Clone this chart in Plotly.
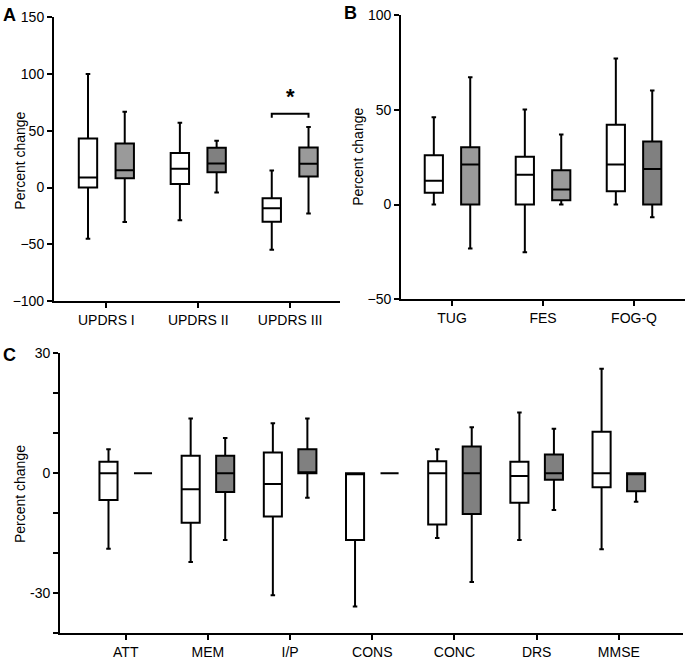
import plotly.graph_objects as go

# ---------------- Data ----------------
# Panel A
A_CATS = ["UPDRS I", "UPDRS II", "UPDRS III"]
A_WHITE_LOW = [-45, -28.8, -54.7]
A_WHITE_Q1 = [0, 3.2, -30]
A_WHITE_MED = [8.8, 16.5, -18.2]
A_WHITE_Q3 = [43.2, 30.3, -9.4]
A_WHITE_HIGH = [100, 57, 15]
A_GRAY_LOW = [-30.3, -4.4, -22.9]
A_GRAY_Q1 = [8.2, 13.5, 9.7]
A_GRAY_MED = [15.3, 21.2, 20.9]
A_GRAY_Q3 = [38.8, 35, 35.3]
A_GRAY_HIGH = [66.8, 41.2, 53.2]
A_SIG_CAT = 2          # significant comparison (UPDRS III)
A_SIG_LEVEL = 65       # bracket height

# Panel B
B_CATS = ["TUG", "FES", "FOG-Q"]
B_WHITE_LOW = [0, -25.2, 0]
B_WHITE_Q1 = [6.2, 0, 7.0]
B_WHITE_MED = [12.5, 15.7, 21.1]
B_WHITE_Q3 = [26, 25.2, 42.1]
B_WHITE_HIGH = [46.1, 50.2, 77.1]
B_GRAY_LOW = [-23.2, 0, -6.7]
B_GRAY_Q1 = [0, 2.3, 0]
B_GRAY_MED = [21.1, 7.9, 18.7]
B_GRAY_Q3 = [30.3, 18.1, 33.3]
B_GRAY_HIGH = [67.2, 37, 60.2]

# Panel C
C_CATS = ["ATT", "MEM", "I/P", "CONS", "CONC", "DRS", "MMSE"]
C_WHITE_LOW = [-18.9, -22.2, -30.5, -33.3, -16.2, -16.7, -19]
C_WHITE_Q1 = [-6.7, -12.4, -10.8, -16.7, -12.8, -7.4, -3.5]
C_WHITE_MED = [0, -4, -2.7, 0, 0, -0.7, 0]
C_WHITE_Q3 = [2.9, 4.4, 5.2, 0, 3, 2.9, 10.4]
C_WHITE_HIGH = [6, 13.7, 12.5, 0, 6, 15.2, 26.1]
C_GRAY_LOW = [0, -16.7, -6.1, 0, -27.2, -9.2, -7.1]
C_GRAY_Q1 = [0, -4.7, 0, 0, -10.2, -1.6, -4.5]
C_GRAY_MED = [0, 0, 0, 0, 0, 0, 0]
C_GRAY_Q3 = [0, 4.4, 6, 0, 6.7, 4.7, 0]
C_GRAY_HIGH = [0, 8.8, 13.7, 0, 11.5, 11.1, 0]

# ---------------- Styles ----------------
LIGHT = "#9a9a9a"
DARK = "#808080"
A_GRAY_FILL = [LIGHT, DARK, LIGHT]
B_GRAY_FILL = [LIGHT, LIGHT, DARK]
C_GRAY_FILL = [DARK] * 7
FONT = "Liberation Sans, Arial, sans-serif"

fig = go.Figure()


def add_panel(xa, ya, n, wl, wq1, wm, wq3, wh, gl, gq1, gm, gq3, gh, gfill, off, bw):
    for i in range(n):
        for pos, lo, q1, md, q3, hi, fill in (
            (i - off, wl[i], wq1[i], wm[i], wq3[i], wh[i], "white"),
            (i + off, gl[i], gq1[i], gm[i], gq3[i], gh[i], gfill[i]),
        ):
            fig.add_trace(go.Box(
                x=[pos], q1=[q1], median=[md], q3=[q3],
                lowerfence=[lo], upperfence=[hi],
                width=bw, whiskerwidth=0.25,
                fillcolor=fill, line=dict(color="black", width=2),
                xaxis=xa, yaxis=ya, showlegend=False, hoverinfo="skip",
            ))


add_panel("x", "y", 3, A_WHITE_LOW, A_WHITE_Q1, A_WHITE_MED, A_WHITE_Q3, A_WHITE_HIGH,
          A_GRAY_LOW, A_GRAY_Q1, A_GRAY_MED, A_GRAY_Q3, A_GRAY_HIGH, A_GRAY_FILL, 0.2, 0.2)
add_panel("x2", "y2", 3, B_WHITE_LOW, B_WHITE_Q1, B_WHITE_MED, B_WHITE_Q3, B_WHITE_HIGH,
          B_GRAY_LOW, B_GRAY_Q1, B_GRAY_MED, B_GRAY_Q3, B_GRAY_HIGH, B_GRAY_FILL, 0.2, 0.2)
add_panel("x3", "y3", 7, C_WHITE_LOW, C_WHITE_Q1, C_WHITE_MED, C_WHITE_Q3, C_WHITE_HIGH,
          C_GRAY_LOW, C_GRAY_Q1, C_GRAY_MED, C_GRAY_Q3, C_GRAY_HIGH, C_GRAY_FILL, 0.21, 0.22)

# significance bracket
fig.add_trace(go.Scatter(
    x=[A_SIG_CAT - 0.2, A_SIG_CAT - 0.2, A_SIG_CAT + 0.2, A_SIG_CAT + 0.2],
    y=[A_SIG_LEVEL - 3.5, A_SIG_LEVEL, A_SIG_LEVEL, A_SIG_LEVEL - 3.5],
    mode="lines", line=dict(color="black", width=2),
    xaxis="x", yaxis="y", showlegend=False, hoverinfo="skip",
))

axis_common = dict(
    showline=True, linecolor="black", linewidth=2,
    ticks="outside", ticklen=5, tickwidth=2, tickcolor="black",
    showgrid=False, zeroline=False, automargin=False,
    tickfont=dict(family=FONT, size=14, color="black"),
)

fig.update_layout(
    width=685, height=659,
    margin=dict(l=0, r=0, t=0, b=0),
    paper_bgcolor="white", plot_bgcolor="white",
    boxmode="overlay",
    xaxis=dict(domain=[0.0788, 0.496], range=[-0.57, 2.54],
               tickvals=list(range(3)), ticktext=A_CATS, anchor="y", **axis_common),
    yaxis=dict(domain=[0.543, 0.974], range=[-100, 150], tickvals=[-100, -50, 0, 50, 100, 150],
               anchor="x", **axis_common),
    xaxis2=dict(domain=[0.5855, 1.0], range=[-0.56, 2.56],
                tickvals=list(range(3)), ticktext=B_CATS, anchor="y2", **axis_common),
    yaxis2=dict(domain=[0.546, 0.977], range=[-50, 100], tickvals=[-50, 0, 50, 100],
                anchor="x2", **axis_common),
    xaxis3=dict(domain=[0.0876, 0.997], range=[-0.8, 6.78],
                tickvals=list(range(7)), ticktext=C_CATS, anchor="y3", **axis_common),
    yaxis3=dict(domain=[0.039, 0.464], range=[-40, 30],
                tickvals=[-40, -30, -20, -10, 0, 10, 20, 30],
                ticktext=["", "-30", "", "", "0", "", "", "30"],
                anchor="x3", **axis_common),
)

# y-axis titles
for xpos, ypos in ((0.029, 0.756), (0.5226, 0.762), (0.029, 0.25)):
    fig.add_annotation(xref="paper", yref="paper", x=xpos, y=ypos, text="Percent change",
                       textangle=-90, showarrow=False, xanchor="center", yanchor="middle",
                       font=dict(family=FONT, size=14, color="black"))

# panel letters
for txt, xpos, ypos in (("A", 0.002, 0.995), ("B", 0.499, 0.998), ("C", 0.002, 0.48)):
    fig.add_annotation(xref="paper", yref="paper", x=xpos, y=ypos, text="<b>%s</b>" % txt,
                       xanchor="left", yanchor="top", showarrow=False,
                       font=dict(family=FONT, size=18, color="black"))

fig.add_annotation(xref="x", yref="y", x=A_SIG_CAT, y=A_SIG_LEVEL + 2, text="<b>*</b>",
                   showarrow=False, yanchor="bottom",
                   font=dict(family=FONT, size=22, color="black"))

fig.write_html("out.html",
               config={"displayModeBar": False},
               post_script="document.body.style.margin='0';document.body.style.overflow='hidden';")
